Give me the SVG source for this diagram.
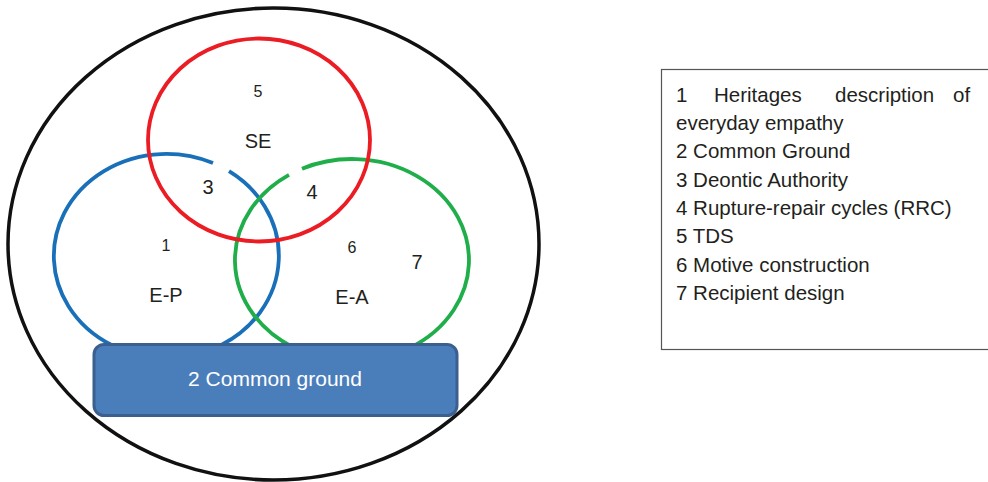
<svg xmlns="http://www.w3.org/2000/svg" width="988" height="482" viewBox="0 0 988 482">
<style>
  .lbl { font-family: "Liberation Sans", Arial, sans-serif; fill: #231f20; text-anchor: middle; }
  .big { font-size: 20px; }
  .small { font-size: 16px; }
  .leg { font-family: "Liberation Sans", Arial, sans-serif; font-size: 20.5px; fill: #231f20; }
  .ring { fill: none; stroke-width: 3.8; }
</style>
<rect width="988" height="482" fill="#ffffff"/>
<g id="outer">
  <ellipse cx="273.5" cy="244" rx="265.5" ry="236" fill="none" stroke="#111111" stroke-width="3.5"/>
</g>
<g id="EP">
  <path class="ring" stroke="#1a6fb9" d="M229,171.2 A112.5,102 0 1 1 213,163.1"/>
  <text class="lbl small" x="166" y="251">1</text>
  <text class="lbl big" x="166" y="302">E-P</text>
</g>
<g id="EA">
  <path class="ring" stroke="#1fae4a" d="M302,168.7 A117,101 0 1 1 289,174.9"/>
  <text class="lbl small" x="352" y="253">6</text>
  <text class="lbl big" x="417" y="269">7</text>
  <text class="lbl big" x="352" y="304">E-A</text>
</g>
<g id="SE">
  <ellipse class="ring" stroke="#ec1c24" cx="259" cy="140" rx="111" ry="101.5"/>
  <text class="lbl small" x="258" y="97">5</text>
  <text class="lbl big" x="258" y="148">SE</text>
  <text class="lbl big" x="208" y="194">3</text>
  <text class="lbl big" x="312" y="199">4</text>
</g>
<g id="common-ground">
  <rect x="94" y="344.5" width="363" height="71" rx="10" ry="10" fill="#4a7ebb" stroke="#3b5f8e" stroke-width="3"/>
  <text x="275" y="386" font-family="Liberation Sans, Arial, sans-serif" font-size="21" fill="#ffffff" text-anchor="middle">2 Common ground</text>
</g>
<g id="legend">
  <rect x="661.5" y="69.5" width="340" height="280" fill="#ffffff" stroke="#555555" stroke-width="1.2"/>
  <text class="leg" y="102"><tspan x="676">1</tspan><tspan x="714">Heritages</tspan><tspan x="835">description</tspan><tspan x="953">of</tspan></text>
  <text class="leg" x="676" y="130">everyday empathy</text>
  <text class="leg" x="676" y="158">2 Common Ground</text>
  <text class="leg" x="676" y="187">3 Deontic Authority</text>
  <text class="leg" x="676" y="215">4 Rupture-repair cycles (RRC)</text>
  <text class="leg" x="676" y="243">5 TDS</text>
  <text class="leg" x="676" y="272">6 Motive construction</text>
  <text class="leg" x="676" y="300">7 Recipient design</text>
</g>
<g id="connectors"></g>
</svg>
